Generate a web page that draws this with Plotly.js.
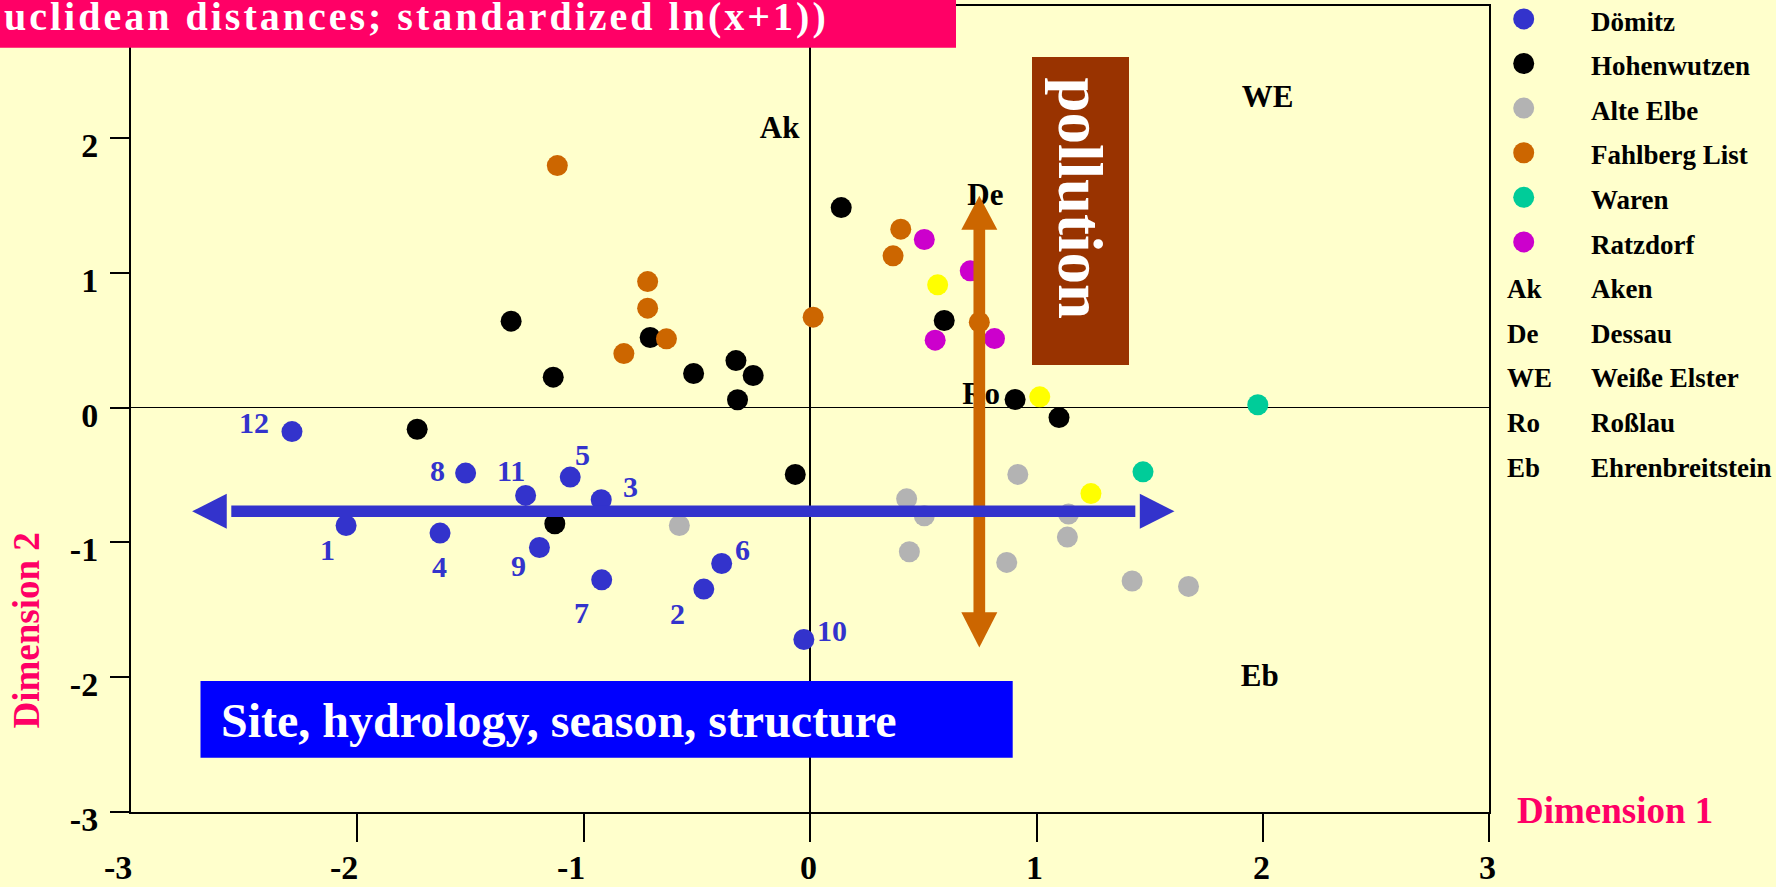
<!DOCTYPE html>
<html>
<head>
<meta charset="utf-8">
<script src="https://cdn.plot.ly/plotly-3.0.1.min.js"></script>
<style>
  html, body { margin: 0; padding: 0; background: #FFFFCC; }
  #chart { width: 1776px; height: 887px; }
</style>
</head>
<body>
<div id="chart"></div>
<script>
// ---------------- DATA ----------------
const domitzSample = ['1','2','3','4','5','6','7','8','9','10','11','12'];
const domitzX = [-2.050, -0.470, -0.923, -1.635, -1.060, -0.391, -0.921, -1.522, -1.196, -0.028, -1.257, -2.289];
const domitzY = [-0.874, -1.346, -0.683, -0.930, -0.515, -1.156, -1.277, -0.485, -1.037, -1.720, -0.651, -0.177];

const hohenwutzenX = [-1.321, -1.135, -1.736, 0.137, -0.707, -0.328, -0.515, -0.252, -0.321, 0.592, 0.905, 1.099, -0.066, -1.128];
const hohenwutzenY = [0.642, 0.227, -0.160, 1.485, 0.521, 0.350, 0.254, 0.239, 0.059, 0.647, 0.061, -0.073, -0.495, -0.861];

const alteElbeX = [-0.578, 0.917, 0.426, 0.504, 1.141, 1.136, 0.438, 0.868, 1.422, 1.671];
const alteElbeY = [-0.874, -0.495, -0.676, -0.802, -0.789, -0.960, -1.069, -1.148, -1.286, -1.326];

const fahlbergX = [-1.117, 0.400, 0.366, -0.718, -0.718, 0.013, 0.747, -0.635, -0.823];
const fahlbergY = [1.797, 1.325, 1.127, 0.936, 0.739, 0.672, 0.635, 0.511, 0.402];

const warenX = [1.977, 1.470];
const warenY = [0.022, -0.476];

const ratzdorfX = [0.504, 0.707, 0.552, 0.814];
const ratzdorfY = [1.248, 1.016, 0.501, 0.513];

const yellowX = [0.563, 1.014, 1.240];
const yellowY = [0.912, 0.081, -0.637];

const siteCodes = ['Ak', 'De', 'WE', 'Ro', 'Eb'];
const siteCodeX = [-0.135, 0.774, 2.020, 0.755, 1.986];
const siteCodeY = [2.062, 1.562, 2.292, 0.088, -2.011];

const legendCodes = ['', '', '', '', '', '', 'Ak', 'De', 'WE', 'Ro', 'Eb'];
const legendNames = ['Dömitz', 'Hohenwutzen', 'Alte Elbe', 'Fahlberg List', 'Waren', 'Ratzdorf',
                     'Aken', 'Dessau', 'Weiße Elster', 'Roßlau', 'Ehrenbreitstein'];

const xTickVals = [-3, -2, -1, 0, 1, 2, 3];
const xTickText = ['-3', '-2', '-1', '0', '1', '2', '3'];
const yTickVals = [-3, -2, -1, 0, 1, 2];
const yTickText = ['-3', '-2', '-1', '0', '1', '2'];

// ---------------- STYLE / GEOMETRY ----------------
const SERIF = 'Liberation Serif, Times New Roman, serif';
const C_DOMITZ = '#3333CC', C_HOHEN = '#000000', C_ALTE = '#B3B3B3',
      C_FAHL = '#CC6600', C_WAREN = '#00CC99', C_RATZ = '#CC00CC', C_YELLOW = '#FFFF00';
const M = { l: 131, r: 0, t: 6, b: 75 };
const PW = 1776 - M.l - M.r, PH = 887 - M.t - M.b;
const px = p => (p - M.l) / PW;            // page pixel -> paper x
const py = p => (887 - M.b - p) / PH;      // page pixel -> paper y
const MAIN_RIGHT = 1489.4;
const mainDomainEnd = (MAIN_RIGHT - M.l) / PW;
const LEG_LEFT = 1490.4;

const MS = 21;
function pts(name, x, y, color) {
  return { type: 'scatter', mode: 'markers', name, x, y, xaxis: 'x', yaxis: 'y',
           marker: { size: MS, color, line: { width: 0 } }, hoverinfo: 'skip', cliponaxis: false };
}

const traces = [
  pts('other', yellowX, yellowY, C_YELLOW),
  pts('Dömitz', domitzX, domitzY, C_DOMITZ),
  pts('Hohenwutzen', hohenwutzenX, hohenwutzenY, C_HOHEN),
  pts('Alte Elbe', alteElbeX, alteElbeY, C_ALTE),
  pts('Fahlberg List', fahlbergX, fahlbergY, C_FAHL),
  pts('Waren', warenX, warenY, C_WAREN),
  pts('Ratzdorf', ratzdorfX, ratzdorfY, C_RATZ),
  { type: 'scatter', mode: 'text', x: siteCodeX, y: siteCodeY, text: siteCodes,
    textposition: 'middle center', xaxis: 'x', yaxis: 'y', hoverinfo: 'skip', cliponaxis: false,
    textfont: { family: SERIF, size: 31, color: '#000', weight: 'bold' } },
  // legend markers (first six entries)
  { type: 'scatter', mode: 'markers', xaxis: 'x2', yaxis: 'y2', hoverinfo: 'skip', cliponaxis: false,
    x: legendNames.slice(0, 6).map(() => 1523.7 - LEG_LEFT),
    y: legendNames.slice(0, 6).map((_, i) => i - 0.06),
    marker: { size: MS, color: [C_DOMITZ, C_HOHEN, C_ALTE, C_FAHL, C_WAREN, C_RATZ], line: { width: 0 } } }
];

// ---------------- SHAPES ----------------
const arrowX = 0.747, arrowTop = 1.573, arrowTopBase = 1.321, arrowBot = -1.780, arrowBotBase = -1.517;
const aHalfW = 18 / 226.45;
const bArrowY = -0.769, bLeft = -2.730, bLeftBase = -2.577, bRight = 1.609, bRightBase = 1.456;
const bHalfH = 17.5 / 134.7;

const shapes = [
  // title box
  { type: 'rect', xref: 'paper', yref: 'paper', x0: px(-2), x1: px(956), y0: py(47.7), y1: py(-3),
    fillcolor: '#FF0066', line: { width: 0 }, layer: 'above' },
  // pollution box
  { type: 'rect', xref: 'paper', yref: 'paper', x0: px(1032), x1: px(1129), y0: py(365), y1: py(57),
    fillcolor: '#993300', line: { width: 0 }, layer: 'above' },
  // site box
  { type: 'rect', xref: 'paper', yref: 'paper', x0: px(200.5), x1: px(1012.7), y0: py(757.7), y1: py(681),
    fillcolor: '#0000FF', line: { width: 0 }, layer: 'above' },
  // orange vertical arrow
  { type: 'line', xref: 'x', yref: 'y', x0: arrowX, x1: arrowX, y0: arrowTopBase + 0.02, y1: arrowBotBase - 0.02,
    line: { color: C_FAHL, width: 11.7 }, layer: 'above' },
  { type: 'path', xref: 'x', yref: 'y', layer: 'above', fillcolor: C_FAHL, line: { width: 0 },
    path: `M${arrowX - aHalfW},${arrowTopBase} L${arrowX + aHalfW},${arrowTopBase} L${arrowX},${arrowTop} Z` },
  { type: 'path', xref: 'x', yref: 'y', layer: 'above', fillcolor: C_FAHL, line: { width: 0 },
    path: `M${arrowX - aHalfW},${arrowBotBase} L${arrowX + aHalfW},${arrowBotBase} L${arrowX},${arrowBot} Z` },
  // blue horizontal arrow
  { type: 'line', xref: 'x', yref: 'y', x0: bLeftBase + 0.02, x1: bRightBase - 0.02, y0: bArrowY, y1: bArrowY,
    line: { color: C_DOMITZ, width: 11.5 }, layer: 'above' },
  { type: 'path', xref: 'x', yref: 'y', layer: 'above', fillcolor: C_DOMITZ, line: { width: 0 },
    path: `M${bLeftBase},${bArrowY + bHalfH} L${bLeftBase},${bArrowY - bHalfH} L${bLeft},${bArrowY} Z` },
  { type: 'path', xref: 'x', yref: 'y', layer: 'above', fillcolor: C_DOMITZ, line: { width: 0 },
    path: `M${bRightBase},${bArrowY + bHalfH} L${bRightBase},${bArrowY - bHalfH} L${bRight},${bArrowY} Z` }
];

// ---------------- ANNOTATIONS ----------------
const annotations = [];
function note(o) { annotations.push(Object.assign({ showarrow: false }, o)); }

note({ xref: 'paper', yref: 'paper', x: px(831), y: py(16), xanchor: 'right', yanchor: 'middle',
       text: '<span style="letter-spacing:3px">(Euclidean distances; standardized ln(x+1))</span>',
       font: { family: SERIF, size: 40, color: '#FFFFFF', weight: 'bold' } });
note({ xref: 'paper', yref: 'paper', x: px(218.7), y: py(720.5), xanchor: 'left', yanchor: 'middle',
       text: 'Site, hydrology, season, structure',
       font: { family: SERIF, size: 48, color: '#FFFFFF', weight: 'bold' } });
note({ xref: 'paper', yref: 'paper', x: px(1079), y: py(198.5), xanchor: 'center', yanchor: 'middle',
       text: 'pollution', textangle: 90,
       font: { family: SERIF, size: 63, color: '#FFFFFF', weight: 'bold' } });
note({ xref: 'paper', yref: 'paper', x: px(25.5), y: py(631), xanchor: 'center', yanchor: 'middle',
       text: 'Dimension 2', textangle: -90,
       font: { family: SERIF, size: 37, color: '#FF0066', weight: 'bold' } });
note({ xref: 'paper', yref: 'paper', x: px(1515), y: py(810.8), xanchor: 'left', yanchor: 'middle',
       text: 'Dimension 1',
       font: { family: SERIF, size: 37, color: '#FF0066', weight: 'bold' } });

// x tick labels (drawn as annotations at the tick values; the original has no tick mark at -3)
xTickVals.forEach((v, i) => {
  note({ xref: 'x', yref: 'paper', x: v, y: py(867.5), xanchor: 'center', yanchor: 'middle',
         xshift: v < 0 ? -13 : -2, text: xTickText[i],
         font: { family: SERIF, size: 34, color: '#000', weight: 'bold' } });
});

// Dömitz sample numbers
const domitzLabelOffset = [[-19,24],[-26,24],[29,-13],[-1,33],[12,-23],[21,-14],[-20,33],[-28,-3],[-21,18],[28,-9],[-15,-25],[-38,-9]];
domitzSample.forEach((s, i) => {
  note({ xref: 'x', yref: 'y', x: domitzX[i], y: domitzY[i], text: s,
         xshift: domitzLabelOffset[i][0], yshift: -domitzLabelOffset[i][1],
         xanchor: 'center', yanchor: 'middle',
         font: { family: SERIF, size: 30, color: C_DOMITZ, weight: 'bold' } });
});

// legend texts
legendNames.forEach((n, i) => {
  note({ xref: 'x2', yref: 'y2', x: 1589 - LEG_LEFT, y: i, xanchor: 'left', yanchor: 'middle', text: n,
         font: { family: SERIF, size: 27, color: '#000', weight: 'bold' } });
  if (legendCodes[i]) {
    note({ xref: 'x2', yref: 'y2', x: 1505 - LEG_LEFT, y: i, xanchor: 'left', yanchor: 'middle', text: legendCodes[i],
           font: { family: SERIF, size: 27, color: '#000', weight: 'bold' } });
  }
});

// ---------------- LAYOUT ----------------
const tickFont = { family: SERIF, size: 34, color: '#000', weight: 'bold' };
const layout = {
  width: 1776, height: 887,
  margin: M,
  paper_bgcolor: '#FFFFCC', plot_bgcolor: '#FFFFCC',
  showlegend: false, hovermode: false,
  font: { family: SERIF },
  xaxis: {
    domain: [0, mainDomainEnd], range: [-3, 3], autorange: false,
    showgrid: false, zeroline: true, zerolinecolor: '#000', zerolinewidth: 1.5,
    showline: true, linecolor: '#000', linewidth: 2, mirror: true,
    ticks: 'outside', ticklen: 28, tickwidth: 2, tickcolor: '#000',
    tickvals: xTickVals.slice(1), showticklabels: false
  },
  yaxis: {
    domain: [0, 1], range: [-3, 2.981], autorange: false,
    showgrid: false, zeroline: true, zerolinecolor: '#000', zerolinewidth: 1.5,
    showline: true, linecolor: '#000', linewidth: 2, mirror: true,
    ticks: 'outside', ticklen: 19, tickwidth: 2, tickcolor: '#000',
    tickvals: yTickVals, ticktext: yTickText, tickfont: tickFont,
    ticklabelstandoff: 5, ticklabelshift: 7
  },
  xaxis2: { domain: [(LEG_LEFT - M.l) / PW, 1], range: [0, 1776 - LEG_LEFT], visible: false, anchor: 'y2', fixedrange: true },
  yaxis2: { domain: [0, 1], range: [(812 - 21.6) / 44.6, (6 - 21.6) / 44.6], visible: false, anchor: 'x2', fixedrange: true },
  shapes, annotations
};

Plotly.newPlot('chart', traces, layout, { staticPlot: true, displayModeBar: false });
</script>
</body>
</html>
